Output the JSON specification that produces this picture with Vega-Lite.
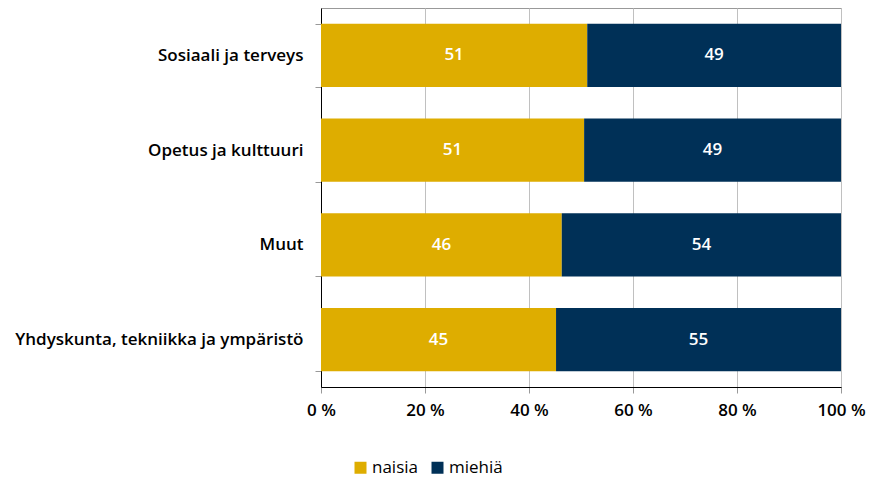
{
  "$schema": "https://vega.github.io/schema/vega-lite/v6.json",
  "width": 520,
  "height": 379,
  "autosize": {"type": "none"},
  "padding": {"left": 321, "top": 8, "right": 28, "bottom": 90},
  "background": "white",
  "config": {
    "view": {"stroke": "#999999", "strokeWidth": 1},
    "font": "Open Sans"
  },
  "data": {
    "values": [
      {"cat": "Sosiaali ja terveys", "sex": "naisia", "v": 51.2},
      {"cat": "Sosiaali ja terveys", "sex": "miehiä", "v": 48.8},
      {"cat": "Opetus ja kulttuuri", "sex": "naisia", "v": 50.6},
      {"cat": "Opetus ja kulttuuri", "sex": "miehiä", "v": 49.4},
      {"cat": "Muut", "sex": "naisia", "v": 46.3},
      {"cat": "Muut", "sex": "miehiä", "v": 53.7},
      {"cat": "Yhdyskunta, tekniikka ja ympäristö", "sex": "naisia", "v": 45.2},
      {"cat": "Yhdyskunta, tekniikka ja ympäristö", "sex": "miehiä", "v": 54.8}
    ]
  },
  "transform": [
    {"stack": "v", "groupby": ["cat"], "sort": [{"field": "sex", "order": "descending"}], "as": ["v0", "v1"]},
    {"calculate": "(datum.v0 + datum.v1) / 2", "as": "mid"}
  ],
  "encoding": {
    "y": {
      "field": "cat",
      "type": "nominal",
      "sort": ["Sosiaali ja terveys", "Opetus ja kulttuuri", "Muut", "Yhdyskunta, tekniikka ja ympäristö"],
      "scale": {"paddingInner": 0.333, "paddingOuter": 0.1667},
      "axis": {
        "title": null,
        "domainColor": "#000000",
        "domainWidth": 1,
        "tickBand": "extent",
        "tickColor": "#999999",
        "tickSize": 6,
        "labelFontSize": 17,
        "labelFontWeight": 600,
        "labelColor": "#000000",
        "labelPadding": 12,
        "labelLimit": 0
      }
    }
  },
  "layer": [
    {
      "mark": {"type": "bar"},
      "encoding": {
        "x": {
          "field": "v0",
          "type": "quantitative",
          "scale": {"domain": [0, 100], "nice": false},
          "axis": {
            "title": null,
            "values": [0, 20, 40, 60, 80, 100],
            "labelExpr": "datum.value + ' %'",
            "grid": true,
            "gridColor": "#c0c0c0",
            "domainColor": "#000000",
            "tickColor": "#999999",
            "tickSize": 6,
            "labelFontSize": 17,
            "labelFontWeight": 600,
            "labelColor": "#000000",
            "labelPadding": 9,
            "labelFlush": false
          }
        },
        "x2": {"field": "v1"},
        "color": {
          "field": "sex",
          "type": "nominal",
          "sort": ["naisia", "miehiä"],
          "scale": {"domain": ["naisia", "miehiä"], "range": ["#DEAD00", "#003057"]},
          "legend": {
            "title": null,
            "orient": "none",
            "legendX": 31,
            "legendY": 451,
            "direction": "horizontal",
            "symbolType": "square",
            "symbolSize": 144,
            "symbolStrokeWidth": 0,
            "labelFontSize": 17,
            "labelFontWeight": 500,
            "labelColor": "#000000",
            "columnPadding": 10,
            "labelOffset": 3,
            "padding": 0
          }
        }
      }
    },
    {
      "mark": {"type": "text", "color": "#ffffff", "fontSize": 17, "fontWeight": 600},
      "encoding": {
        "x": {"field": "mid", "type": "quantitative"},
        "text": {"field": "v", "type": "quantitative", "format": ".0f"}
      }
    }
  ]
}
